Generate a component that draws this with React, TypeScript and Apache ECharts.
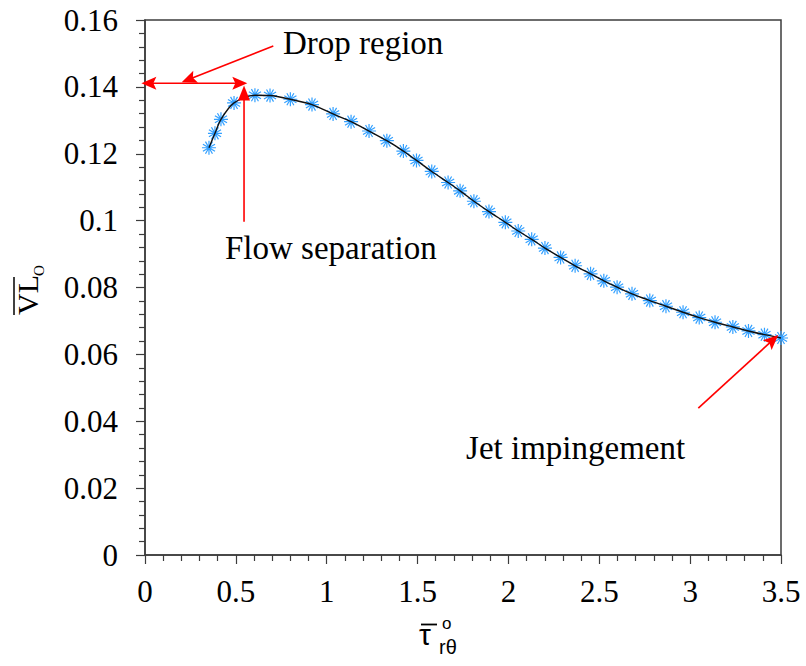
import React, { useEffect, useRef } from "react";
import * as echarts from "echarts";

// Curve samples (tau_r_theta, VL_O)
const xValues = [
  0.352, 0.385, 0.418, 0.49, 0.605, 0.688, 0.8, 0.919, 1.035, 1.134, 1.233, 1.331,
  1.422, 1.494, 1.578, 1.668, 1.734, 1.81, 1.893, 1.983, 2.054, 2.128, 2.201, 2.287,
  2.367, 2.452, 2.525, 2.598, 2.68, 2.778, 2.867, 2.961, 3.05, 3.137, 3.235, 3.321,
  3.409, 3.5,
];
const yValues = [
  0.1218, 0.1261, 0.1303, 0.1352, 0.1375, 0.1374, 0.1363, 0.1347, 0.1319, 0.1296,
  0.1268, 0.1239, 0.1208, 0.118, 0.1147, 0.1114, 0.1089, 0.1058, 0.1027, 0.0995,
  0.0969, 0.0944, 0.0918, 0.089, 0.0865, 0.0841, 0.082, 0.0801, 0.0781, 0.0761,
  0.0744, 0.0726, 0.071, 0.0696, 0.0682, 0.067, 0.0659, 0.0649,
];

// Axis ranges
const xRange = [0, 3.5, 0.5];
const yRange = [0, 0.16, 0.02];

// Annotations in data coordinates: [start, tip]
const dropRegionSpan = [[-0.02, 0.1411], [0.563, 0.1411]];
const dropRegionPointer = [[0.706, 0.1522], [0.202, 0.1414]];
const flowSeparationPointer = [[0.545, 0.0997], [0.545, 0.1404]];
const jetPointer = [[3.045, 0.0439], [3.485, 0.0658]];

const annotationTexts = ["Drop region", "Flow separation", "Jet impingement"];
const annotationAnchors = [[0.759, 0.1531], [0.44, 0.0918], [1.767, 0.032]];

const ASTERISK =
  "path://M-10 0L10 0M-8.66 -5L8.66 5M-5 -8.66L5 8.66M0 -10L0 10M5 -8.66L-5 8.66M8.66 -5L-8.66 5";

const SERIF = "'Liberation Serif', 'Times New Roman', serif";
const SANS = "'Liberation Sans', Arial, sans-serif";
const RED = "#ff0000";
const AXIS = "#3c3c3c";

type P = number[];

function arrowHead(tip: P, from: P, len: number, half: number, notch: number) {
  const dx = tip[0] - from[0];
  const dy = tip[1] - from[1];
  const d = Math.hypot(dx, dy) || 1;
  const ux = dx / d, uy = dy / d;
  const nx = -uy, ny = ux;
  const bx = tip[0] - ux * len, by = tip[1] - uy * len;
  const pts: P[] = [[tip[0], tip[1]], [bx + nx * half, by + ny * half]];
  if (notch > 0) pts.push([bx + ux * len * notch, by + uy * len * notch]);
  pts.push([bx - nx * half, by - ny * half]);
  return { type: "polygon", shape: { points: pts }, style: { fill: RED }, z: 20, silent: true };
}

function shaft(a: P, b: P, shortenEnd: number, shortenStart = 0) {
  const dx = b[0] - a[0], dy = b[1] - a[1];
  const d = Math.hypot(dx, dy) || 1;
  const ux = dx / d, uy = dy / d;
  return {
    type: "line",
    shape: {
      x1: a[0] + ux * shortenStart,
      y1: a[1] + uy * shortenStart,
      x2: b[0] - ux * shortenEnd,
      y2: b[1] - uy * shortenEnd,
    },
    style: { stroke: RED, lineWidth: 1.6 },
    z: 19,
    silent: true,
  };
}

export default function App() {
  const ref = useRef<HTMLDivElement>(null);

  useEffect(() => {
    const chart = echarts.init(ref.current!, null, { renderer: "svg" });
    const data = xValues.map((x, i) => [x, yValues[i]]);

    chart.setOption({
      animation: false,
      backgroundColor: "#ffffff",
      grid: {
        left: 145,
        right: 25,
        top: 20,
        bottom: 111,
        show: true,
        borderColor: AXIS,
        borderWidth: 1.5,
        backgroundColor: "transparent",
      },
      xAxis: {
        type: "value",
        min: xRange[0],
        max: xRange[1],
        interval: xRange[2],
        axisLine: { show: true, lineStyle: { color: AXIS, width: 1.5 } },
        axisTick: { show: true, inside: false, length: 9, lineStyle: { color: AXIS, width: 1.2 } },
        minorTick: { show: true, splitNumber: 5, length: 6, lineStyle: { color: AXIS, width: 1.2 } },
        splitLine: { show: false },
        axisLabel: {
          color: "#000",
          fontFamily: SERIF,
          fontSize: 31,
          margin: 21,
          showMinLabel: true,
          showMaxLabel: true,
        },
      },
      yAxis: {
        type: "value",
        min: yRange[0],
        max: yRange[1],
        interval: yRange[2],
        axisLine: { show: true, lineStyle: { color: AXIS, width: 1.5 } },
        axisTick: { show: true, inside: false, length: 9, lineStyle: { color: AXIS, width: 1.2 } },
        minorTick: { show: true, splitNumber: 5, length: 6, lineStyle: { color: AXIS, width: 1.2 } },
        splitLine: { show: false },
        axisLabel: {
          color: "#000",
          fontFamily: SERIF,
          fontSize: 31,
          margin: 27,
          showMinLabel: true,
          showMaxLabel: true,
        },
      },
      series: [
        {
          type: "scatter",
          data,
          symbol: ASTERISK,
          symbolSize: 14,
          itemStyle: { color: "rgba(0,0,0,0)", borderColor: "#33a0ff", borderWidth: 1.2, opacity: 1 },
          z: 2,
          silent: true,
        },
        {
          type: "line",
          data,
          smooth: 0.3,
          showSymbol: false,
          lineStyle: { color: "#111", width: 1.4 },
          z: 3,
          silent: true,
        },
      ],
    });

    const px = (p: P) => chart.convertToPixel({ gridIndex: 0 }, p) as number[];
    const graphics: any[] = [];

    // Drop region double arrow
    {
      const a = px(dropRegionSpan[0]);
      const b = px(dropRegionSpan[1]);
      graphics.push(shaft(a, b, 8, 8));
      graphics.push(arrowHead(a, b, 15, 6.5, 0.2));
      graphics.push(arrowHead(b, a, 15, 6.5, 0.2));
    }
    // Drop region pointer
    {
      const a = px(dropRegionPointer[0]);
      const b = px(dropRegionPointer[1]);
      graphics.push(shaft(a, b, 8));
      graphics.push(arrowHead(b, a, 15, 6.5, 0.2));
    }
    // Flow separation pointer
    {
      const a = px(flowSeparationPointer[0]);
      const b = px(flowSeparationPointer[1]);
      graphics.push(shaft(a, b, 8));
      graphics.push(arrowHead(b, a, 15, 6, 0));
    }
    // Jet impingement pointer
    {
      const a = px(jetPointer[0]);
      const b = px(jetPointer[1]);
      graphics.push(shaft(a, b, 8));
      graphics.push(arrowHead(b, a, 15, 6.5, 0.2));
    }
    // Annotation texts
    annotationTexts.forEach((t, i) => {
      const p = px(annotationAnchors[i]);
      graphics.push({
        type: "text",
        x: p[0],
        y: p[1],
        z: 21,
        silent: true,
        style: {
          text: t,
          fill: "#000",
          font: `33px ${SERIF}`,
          align: "left",
          verticalAlign: "middle",
        },
      });
    });

    // Y axis title: overline VL with subscript O (rotated)
    graphics.push({
      type: "group",
      x: 27,
      y: 290,
      rotation: Math.PI / 2,
      silent: true,
      children: [
        {
          type: "text",
          x: -25,
          y: 0,
          style: { text: "VL", fill: "#000", font: `30px ${SERIF}`, align: "left", verticalAlign: "middle" },
        },
        {
          type: "line",
          shape: { x1: -25, y1: -13, x2: 13, y2: -13 },
          style: { stroke: "#000", lineWidth: 1.5 },
        },
        {
          type: "text",
          x: 14,
          y: 12,
          style: { text: "O", fill: "#000", font: `15px ${SERIF}`, align: "left", verticalAlign: "middle" },
        },
      ],
    });

    // X axis title: overline tau with superscript o and subscript r-theta
    graphics.push({
      type: "group",
      x: 0,
      y: 0,
      silent: true,
      children: [
        {
          type: "text",
          x: 419,
          y: 634,
          style: { text: "τ", fill: "#000", font: `30px ${SANS}`, align: "left", verticalAlign: "middle" },
        },
        {
          type: "line",
          shape: { x1: 421, y1: 624.5, x2: 437, y2: 624.5 },
          style: { stroke: "#000", lineWidth: 1.8 },
        },
        {
          type: "text",
          x: 442,
          y: 623.5,
          style: { text: "o", fill: "#000", font: `17px ${SANS}`, align: "left", verticalAlign: "middle" },
        },
        {
          type: "text",
          x: 439,
          y: 647,
          style: { text: "rθ", fill: "#000", font: `20px ${SANS}`, align: "left", verticalAlign: "middle" },
        },
      ],
    });

    chart.setOption({ graphic: graphics });

    return () => chart.dispose();
  }, []);

  return (
    <div
      ref={ref}
      style={{ position: "fixed", left: 0, top: 0, width: 806, height: 666, background: "#fff" }}
    />
  );
}
